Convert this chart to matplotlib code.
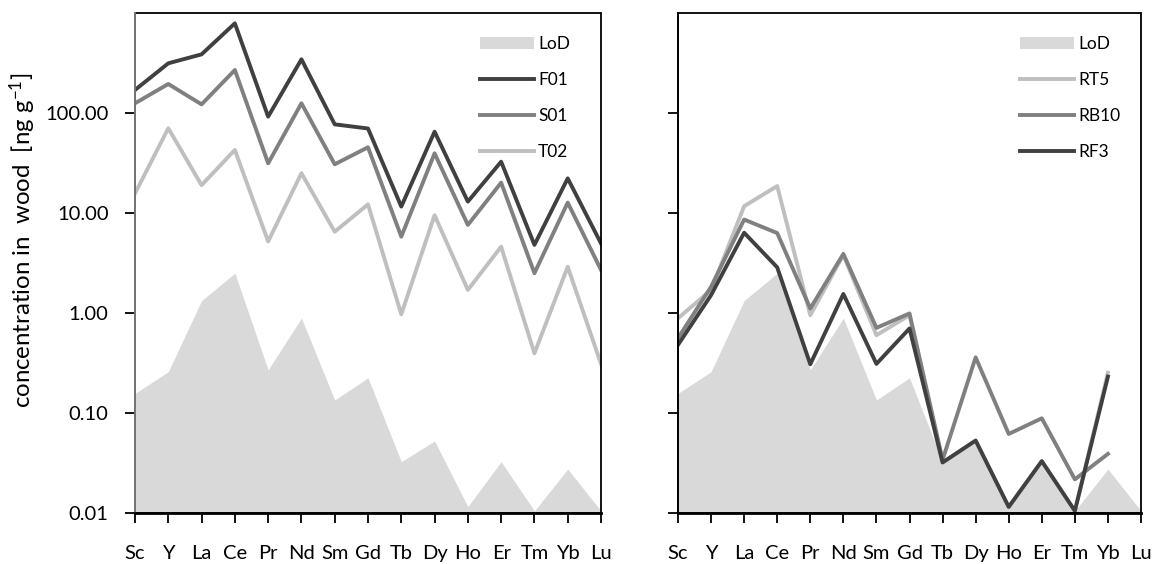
import matplotlib
matplotlib.use("Agg")
import matplotlib.pyplot as plt
from matplotlib.patches import Patch, Rectangle
from matplotlib.lines import Line2D
import numpy as np

plt.rcParams['font.family'] = ['Lato', 'DejaVu Sans']
plt.rcParams['mathtext.fontset'] = 'custom'
plt.rcParams['mathtext.rm'] = 'Lato'
plt.rcParams['mathtext.it'] = 'Lato:italic'

# Rare earth elements (plus Sc, Y) along the x axis
elements = ["Sc", "Y", "La", "Ce", "Pr", "Nd", "Sm", "Gd", "Tb", "Dy", "Ho", "Er", "Tm", "Yb", "Lu"]

# Limit of detection, ng/g
lod = [0.157, 0.259, 1.33, 2.5, 0.27, 0.89, 0.135, 0.225, 0.0326, 0.0525, 0.0116, 0.0326, 0.0105, 0.0275, 0.0105]

# Left panel samples
f01 = [170, 314, 386, 788, 92, 344, 77, 70, 11.6, 65, 13, 32.6, 4.8, 22.2, 4.97]
s01 = [125, 195, 122, 269, 31.4, 125, 30.7, 45.4, 5.8, 39.5, 7.6, 20.1, 2.5, 12.7, 2.7]
t02 = [15.7, 70.3, 19, 42.7, 5.2, 25, 6.5, 12.2, 0.97, 9.5, 1.7, 4.6, 0.395, 2.9, 0.31]

# Right panel samples (no Lu value)
rt5 = [0.885, 1.7, 11.7, 18.6, 0.95, 3.8, 0.60, 0.95, 0.032, 0.053, 0.0115, 0.033, 0.0105, 0.253, np.nan]
rb10 = [0.56, 1.83, 8.6, 6.3, 1.11, 3.9, 0.71, 0.99, 0.034, 0.36, 0.0617, 0.0885, 0.0217, 0.039, np.nan]
rf3 = [0.48, 1.51, 6.35, 2.86, 0.307, 1.55, 0.31, 0.70, 0.032, 0.053, 0.0115, 0.033, 0.0105, 0.231, np.nan]

ytick_vals = [0.01, 0.1, 1, 10, 100]
ytick_labels = ["0.01", "0.10", "1.00", "10.00", "100.00"]

C_LOD = "#d9d9d9"
C_DARK = "#404040"
C_MID = "#808080"
C_LIGHT = "#bfbfbf"
LW = 2.8

fig = plt.figure(figsize=(11.6, 5.64), dpi=100)
W, H = 1160, 564
ax1 = fig.add_axes([135 / W, 1 - 513 / H, 466 / W, 500 / H])
ax2 = fig.add_axes([678 / W, 1 - 513 / H, 463 / W, 500 / H])

x = np.arange(len(elements))


def style_axes(ax, show_ylabels, left_color="black"):
    ax.set_yscale("log")
    ax.set_ylim(0.01, 1000)
    ax.set_xlim(0, len(elements) - 1)
    ax.set_xticks(x)
    ax.set_xticklabels(elements)
    ax.set_yticks(ytick_vals)
    ax.yaxis.set_minor_locator(matplotlib.ticker.NullLocator())
    if show_ylabels:
        ax.set_yticklabels(ytick_labels)
    else:
        ax.set_yticklabels([])
    ax.tick_params(axis="x", direction="out", length=7, width=1.3, pad=16, labelsize=14.5,
                   top=False, bottom=True)
    ax.tick_params(axis="y", direction="out", length=7, width=1.3, pad=12, labelsize=14.5,
                   left=True, right=False)
    for s in ax.spines.values():
        s.set_visible(False)
    # plot frame: top/right edges, then left and bottom axis lines
    ax.add_patch(Rectangle((0, 0), 1, 1, transform=ax.transAxes, fill=False,
                           edgecolor="black", lw=1.3, clip_on=False, zorder=6))
    ax.add_line(Line2D([0, 0], [0, 1], transform=ax.transAxes, color=left_color,
                       lw=1.3, clip_on=False, zorder=7))
    ax.add_line(Line2D([0, 1], [0, 0], transform=ax.transAxes, color="black",
                       lw=2.0, clip_on=False, zorder=7))


# Left panel
ax1.fill_between(x, 1e-4, lod, color=C_LOD, lw=0, zorder=1)
ax1.plot(x, f01, color=C_DARK, lw=LW, zorder=3)
ax1.plot(x, s01, color=C_MID, lw=LW, zorder=3)
ax1.plot(x, t02, color=C_LIGHT, lw=LW, zorder=3)
style_axes(ax1, True, left_color="#7f7f7f")

# Right panel
ax2.fill_between(x, 1e-4, lod, color=C_LOD, lw=0, zorder=1)
ax2.plot(x, rt5, color=C_LIGHT, lw=LW, zorder=3)
ax2.plot(x, rb10, color=C_MID, lw=LW, zorder=3)
ax2.plot(x, rf3, color=C_DARK, lw=LW, zorder=3)
style_axes(ax2, False)

legend_kw = dict(frameon=False, fontsize=12.5, handlelength=3.1, handletextpad=0.25,
                 labelspacing=1.15, borderpad=0, borderaxespad=0, loc="upper left")

h1 = [Patch(facecolor=C_LOD, edgecolor="none"),
      Line2D([], [], color=C_DARK, lw=LW),
      Line2D([], [], color=C_MID, lw=LW),
      Line2D([], [], color=C_LIGHT, lw=LW)]
ax1.legend(h1, ["LoD", "F01", "S01", "T02"],
           bbox_to_anchor=((480 - 135) / 466, (513 - 36) / 500), **legend_kw)

h2 = [Patch(facecolor=C_LOD, edgecolor="none"),
      Line2D([], [], color=C_LIGHT, lw=LW),
      Line2D([], [], color=C_MID, lw=LW),
      Line2D([], [], color=C_DARK, lw=LW)]
ax2.legend(h2, ["LoD", "RT5", "RB10", "RF3"],
           bbox_to_anchor=((1020 - 678) / 463, (513 - 36) / 500), **legend_kw)

fig.text(23 / W, 1 - 240 / H, r"concentration in  wood  [ng g$^{\mathregular{-1}}$]",
         rotation=90, ha="center", va="center", fontsize=17.3)

fig.savefig("out.png", dpi=100)
